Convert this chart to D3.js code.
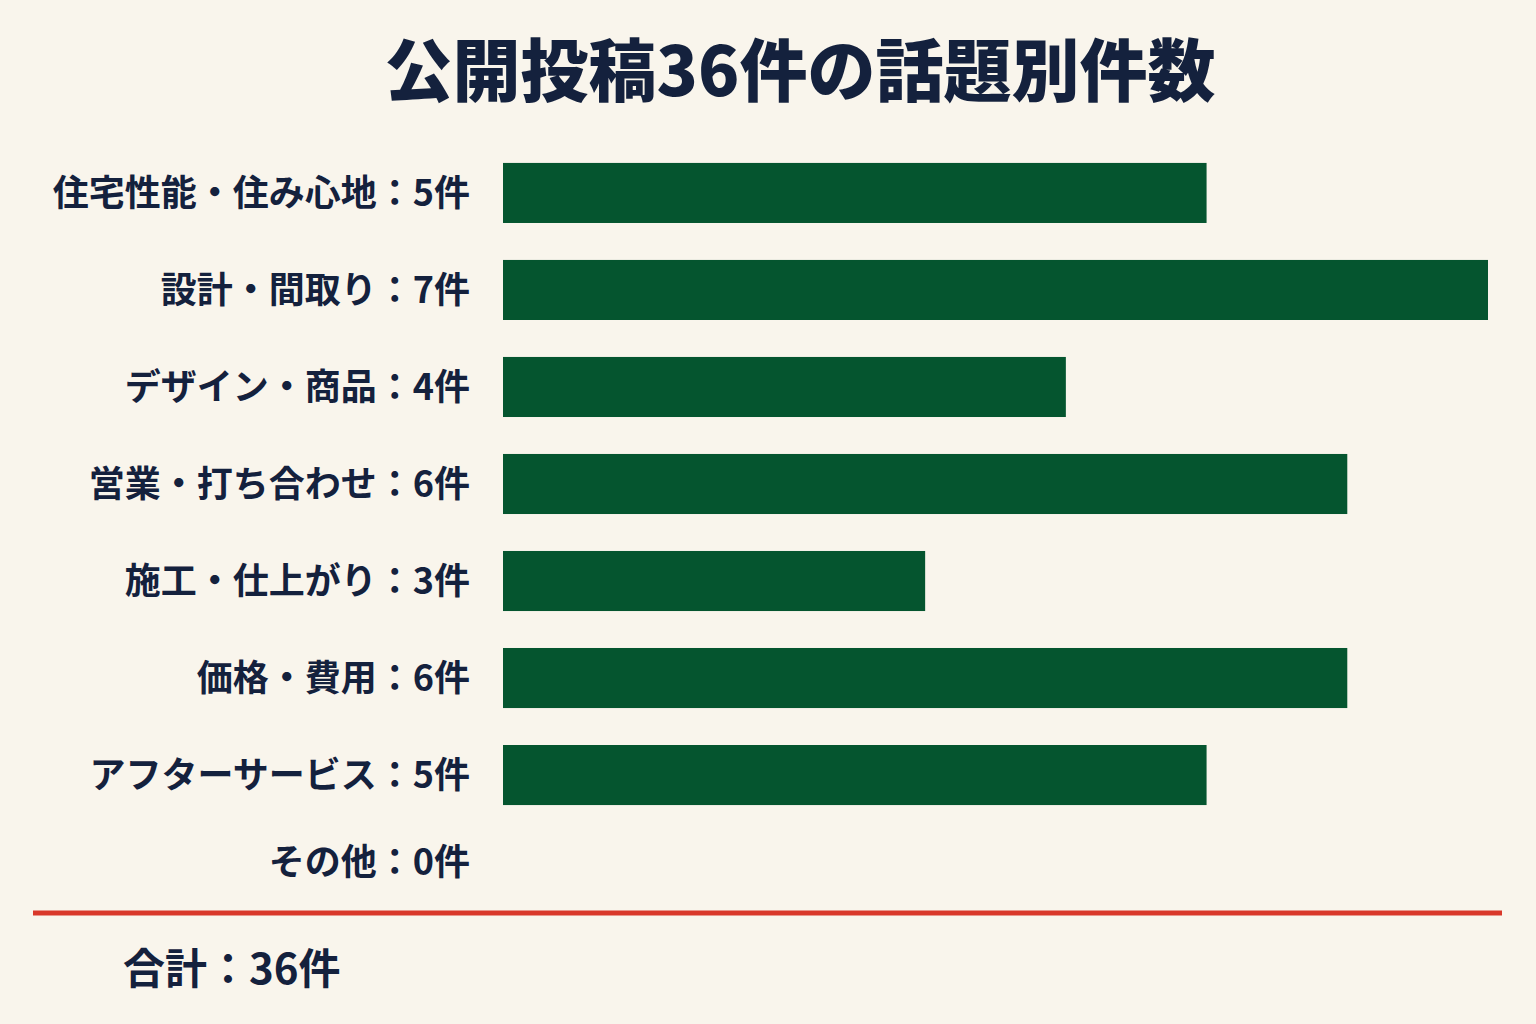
<!DOCTYPE html>
<html><head><meta charset="utf-8">
<script src="https://cdn.jsdelivr.net/npm/d3@7"></script>
<style>body{margin:0;background:#f9f5ec}svg{display:block}</style>
</head><body>
<script>
var categories = ["住宅性能・住み心地", "設計・間取り", "デザイン・商品", "営業・打ち合わせ", "施工・仕上がり", "価格・費用", "アフターサービス", "その他"];
var counts = [5, 7, 4, 6, 3, 6, 5, 0];
var title = "公開投稿36件の話題別件数";
var total = 36;

var width = 1536, height = 1024,
	font = "'Noto Sans CJK JP', 'Noto Sans', sans-serif",
	ink = "#14213d";

var svg = d3.select("body").append("svg")
	.attr("width", width).attr("height", height);

svg.append("rect").attr("width", width).attr("height", height).attr("fill", "#f9f5ec");

svg.append("text")
	.attr("x", 800).attr("y", 96)
	.attr("text-anchor", "middle")
	.attr("font-family", font).attr("font-weight", 900).attr("font-size", 68)
	.attr("fill", ink).text(title);

var x = d3.scaleLinear().domain([0, 7]).range([503, 1488]);
var y = d3.scaleBand().domain(categories).range([144.5, 920.5])
	.paddingInner(0.381).paddingOuter(0.19);

// bars
svg.append("g").selectAll("rect")
	.data(categories)
	.join("rect")
	.attr("x", x(0))
	.attr("y", function(d) { return y(d); })
	.attr("width", function(d, i) { return x(counts[i]) - x(0); })
	.attr("height", y.bandwidth())
	.attr("fill", "#05552f");

// labels
svg.append("g").selectAll("text")
	.data(categories)
	.join("text")
	.attr("x", 470)
	.attr("y", function(d, i) { return y(d) + y.bandwidth() / 2 - (i === 7 ? 10 : 0); })
	.attr("dy", "0.35em")
	.attr("text-anchor", "end")
	.attr("font-family", font).attr("font-weight", 700).attr("font-size", 36)
	.attr("fill", ink)
	.text(function(d, i) { return d + "：" + counts[i] + "件"; });

svg.append("line")
	.attr("x1", 33).attr("x2", 1502).attr("y1", 913).attr("y2", 913)
	.attr("stroke", "#d9382a").attr("stroke-width", 5);

svg.append("text")
	.attr("x", 123).attr("y", 984)
	.attr("font-family", font).attr("font-weight", 700).attr("font-size", 42)
	.attr("fill", ink).text("合計：" + total + "件");
</script>
</body></html>
